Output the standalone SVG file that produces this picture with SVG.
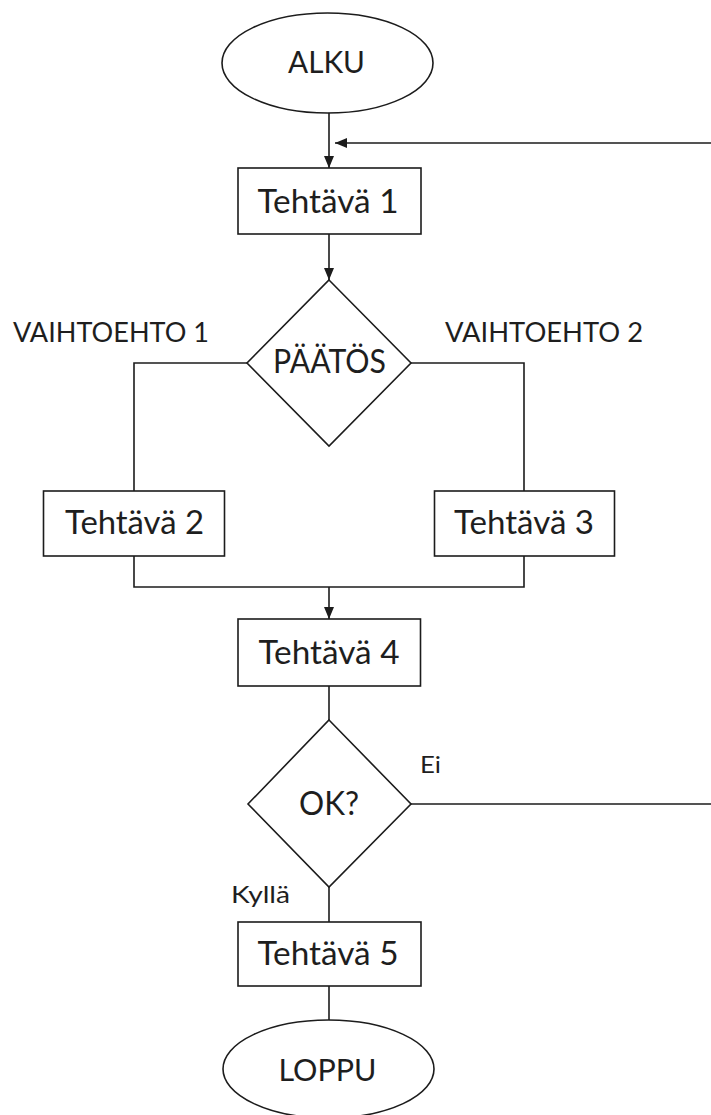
<svg xmlns="http://www.w3.org/2000/svg" width="711" height="1115" viewBox="0 0 711 1115">
  <style>
    .shape { fill: #ffffff; stroke: #1c1c1c; stroke-width: 1.6; }
    .wire { fill: none; stroke: #1c1c1c; stroke-width: 1.6; }
    .lbl { font-family: Lato, "Open Sans", "Liberation Sans", sans-serif; fill: #1e1e1e; text-anchor: middle; }
    .big { font-size: 33px; }
    .mid { font-size: 30px; }
    .small { font-size: 26px; }
    .tiny { font-size: 24px; }
  </style>
  <defs>
    <marker id="arrow" markerUnits="userSpaceOnUse" markerWidth="12" markerHeight="12" viewBox="0 0 12 12" refX="12" refY="6" orient="auto">
      <path d="M0 1 L12 6 L0 11 Z" fill="#1c1c1c"/>
    </marker>
  </defs>

  <!-- connectors -->
  <g id="connectors">
    <path class="wire" d="M329 113 V168" marker-end="url(#arrow)"/>
    <path class="wire" d="M411 804 H725 V143 H335" marker-end="url(#arrow)"/>
    <path class="wire" d="M329 234 V280" marker-end="url(#arrow)"/>
    <path class="wire" d="M247 363 H134 V491"/>
    <path class="wire" d="M411 363 H524 V491"/>
    <path class="wire" d="M134 556 V587 H524 V556"/>
    <path class="wire" d="M329 587 V619" marker-end="url(#arrow)"/>
    <path class="wire" d="M329 686 V720"/>
    <path class="wire" d="M329 887 V922"/>
    <path class="wire" d="M329 986 V1020"/>
  </g>

  <!-- branch labels -->
  <g id="labels">
    <text class="lbl small" x="111" y="342" textLength="196" lengthAdjust="spacingAndGlyphs">VAIHTOEHTO 1</text>
    <text class="lbl small" x="544" y="342" textLength="198" lengthAdjust="spacingAndGlyphs">VAIHTOEHTO 2</text>
    <text class="lbl tiny" x="430.5" y="773" textLength="21" lengthAdjust="spacingAndGlyphs">Ei</text>
    <text class="lbl tiny" x="260.5" y="903" textLength="59" lengthAdjust="spacingAndGlyphs">Kyllä</text>
  </g>

  <g id="alku">
    <ellipse class="shape" cx="327.5" cy="63" rx="105.5" ry="50"/>
    <text class="lbl mid" x="326.5" y="73" textLength="77" lengthAdjust="spacingAndGlyphs">ALKU</text>
  </g>

  <g id="tehtava1">
    <rect class="shape" x="238" y="168" width="183" height="66"/>
    <text class="lbl big" x="328" y="213" textLength="141" lengthAdjust="spacingAndGlyphs">Tehtävä 1</text>
  </g>

  <g id="paatos">
    <polygon class="shape" points="329,280 411,363 329,446 247,363"/>
    <text class="lbl big" x="329.5" y="373" textLength="113" lengthAdjust="spacingAndGlyphs">PÄÄTÖS</text>
  </g>

  <g id="tehtava2">
    <rect class="shape" x="43.5" y="491" width="181" height="65"/>
    <text class="lbl big" x="134.5" y="534" textLength="139" lengthAdjust="spacingAndGlyphs">Tehtävä 2</text>
  </g>

  <g id="tehtava3">
    <rect class="shape" x="434.5" y="491" width="180" height="65"/>
    <text class="lbl big" x="524" y="534" textLength="140" lengthAdjust="spacingAndGlyphs">Tehtävä 3</text>
  </g>

  <g id="tehtava4">
    <rect class="shape" x="238" y="619" width="182.5" height="67"/>
    <text class="lbl big" x="329" y="664" textLength="141" lengthAdjust="spacingAndGlyphs">Tehtävä 4</text>
  </g>

  <g id="ok">
    <polygon class="shape" points="329,720 411,804 329,887 248,804"/>
    <text class="lbl big" x="329" y="815" textLength="60" lengthAdjust="spacingAndGlyphs">OK?</text>
  </g>

  <g id="tehtava5">
    <rect class="shape" x="238" y="922" width="183" height="64"/>
    <text class="lbl big" x="328" y="965" textLength="141" lengthAdjust="spacingAndGlyphs">Tehtävä 5</text>
  </g>

  <g id="loppu">
    <ellipse class="shape" cx="328.5" cy="1069" rx="105.5" ry="49"/>
    <text class="lbl mid" x="327.5" y="1081" textLength="98" lengthAdjust="spacingAndGlyphs">LOPPU</text>
  </g>
</svg>
